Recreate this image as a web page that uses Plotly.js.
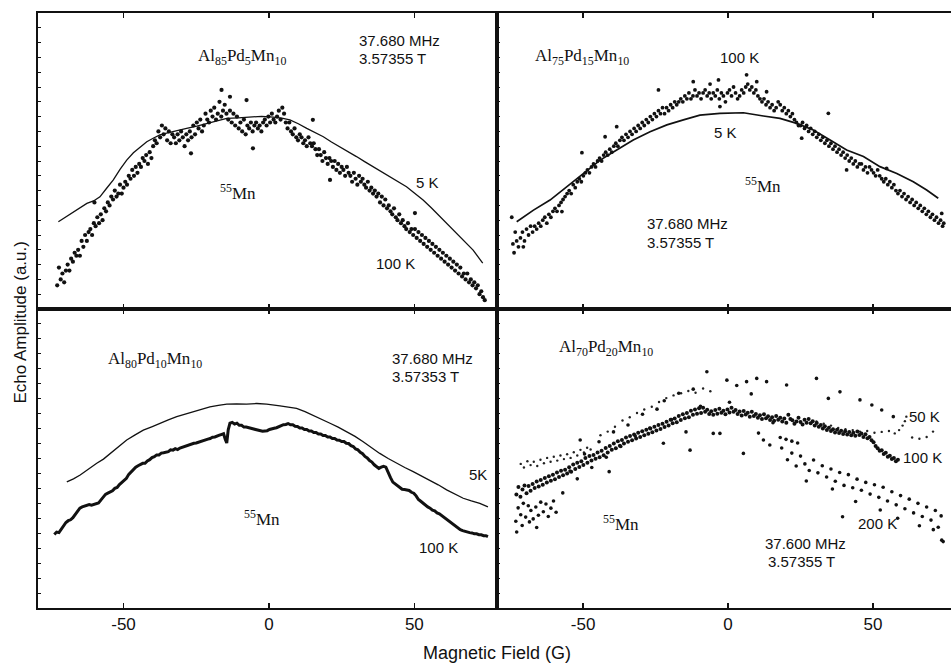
<!DOCTYPE html>
<html>
<head>
<meta charset="utf-8">
<script src="https://cdn.plot.ly/plotly-3.0.1.min.js"></script>
<style>
html,body{margin:0;padding:0;background:#fff;}
#chart{width:951px;height:663px;}
</style>
</head>
<body>
<div id="chart"></div>
<script>
// ---------- Panel A: Al85Pd5Mn10 (top-left) ----------
const a5K_x = [-72.4,-70.0,-67.8,-65.0,-62.6,-60.3,-58.1,-55.8,-53.5,-51.2,-48.9,-46.6,-44.3,-42.0,-39.8,-37.5,-35.2,-31.7,-28.3,-24.8,-21.4,-17.9,-14.5,-10.5,-6.5,-2.5,1.5,4.4,7.2,10.1,13.0,15.8,18.7,21.5,24.4,27.2,30.1,32.9,35.8,38.7,41.6,44.4,47.3,50.1,53.0,55.9,58.8,61.6,64.5,67.3,70.2,73.5];
const a5K_y = [29.5,31.0,32.3,34.2,35.7,36.5,37.9,40.8,43.6,47.2,50.3,52.8,54.8,56.5,57.7,58.8,59.4,60.3,61.0,61.8,62.7,63.6,64.4,64.6,64.8,65.1,64.8,64.5,63.9,62.6,61.0,59.7,58.2,56.4,54.8,53.2,51.5,49.8,48.1,46.4,44.7,43.0,41.3,39.1,36.8,34.1,31.2,28.4,25.6,22.7,19.9,15.5];
const a100K_x = [
-72.8,-72.2,-71.6,-71.0,-70.4,-69.8, -69.2,-68.6,-68.0,-67.4,-66.8,-66.2, -65.6,-65.0,-64.4,-63.8,-63.2,-62.6,
-62.0,-61.4,-60.8,-60.2,-59.6,-59.0, -58.4,-57.8,-57.2,-56.6,-56.0,-55.4, -54.8,-54.2,-53.6,-53.0,-52.4,-51.8,
-51.2,-50.6,-50.0,-49.4,-48.8,-48.2, -47.6,-47.0,-46.4,-45.8,-45.2,-44.6, -44.0,-43.4,-42.8,-42.2,-41.6,-41.0,
-40.4,-39.8,-39.2,-38.6,-38.0,-37.4, -36.8,-36.2,-35.6,-35.0,-34.4,-33.8, -33.2,-32.6,-32.0,-31.4,-30.8,-30.2,
-29.6,-29.0,-28.4,-27.8,-27.2,-26.6, -26.0,-25.4,-24.8,-24.2,-23.6,-23.0, -22.4,-21.8,-21.2,-20.6,-20.0,-19.4,
-18.8,-18.2,-17.6,-17.0,-16.4,-15.8, -15.2,-14.6,-14.0,-13.4,-12.8,-12.2, -11.6,-11.0,-10.4,-9.8,-9.2,-8.6,
-8.0,-7.4,-6.8,-6.2,-5.6,-5.0, -4.4,-3.8,-3.2,-2.6,-2.0,-1.4, -0.8,-0.2,0.4,1.0,1.6,2.2,
2.8,3.4,4.0,4.6,5.2,5.8, 6.4,7.0,7.6,8.2,8.8,9.4, 10.0,10.6,11.2,11.8,12.4,13.0,
13.6,14.2,14.8,15.4,16.0,16.6, 17.2,17.8,18.4,19.0,19.6,20.2, 20.8,21.4,22.0,22.6,23.2,23.8,
24.4,25.0,25.6,26.2,26.8,27.4, 28.0,28.6,29.2,29.8,30.4,31.0, 31.6,32.2,32.8,33.4,34.0,34.6,
35.2,35.8,36.4,37.0,37.6,38.2, 38.8,39.4,40.0,40.6,41.2,41.8, 42.4,43.0,43.6,44.2,44.8,45.4,
46.0,46.6,47.2,47.8,48.4,49.0, 49.6,50.2,50.8,51.4,52.0,52.6, 53.2,53.8,54.4,55.0,55.6,56.2,
56.8,57.4,58.0,58.6,59.2,59.8, 60.4,61.0,61.6,62.2,62.8,63.4, 64.0,64.6,65.2,65.8,66.4,67.0,
67.6,68.2,68.8,69.4,70.0,70.6, 71.2,71.8,72.4,73.0,73.6,74.2,
-16.3,-13.4,-7.7,-5.5,-26.8,15.1,21.0,50.2,-60.0];
const a100K_y = [
8,14,10,12,9,13, 15,13,17,16,19,18, 20,18,23,21,25,23,
26,27,25,29,28,31, 29,32,30,34,33,36, 35,38,37,40,38,39,
42,39,41,43,42,45, 44,47,45,48,46,49, 48,51,50,52,49,53,
51,55,57,56,60,58, 62,59,61,57,60,56, 59,58,56,59,57,60,
58,55,59,57,60,58, 62,59,63,61,64,60, 62,66,64,63,67,65,
68,64,66,70,65,67, 69,66,64,67,63,66, 62,65,61,63,60,64,
59,62,61,63,60,62, 63,61,62,60,63,64, 62,65,63,66,64,63,
65,67,64,68,66,63, 61,63,60,59,61,58, 57,59,58,56,57,55,
58,56,55,56,54,52, 54,52,50,53,51,49, 51,50,48,50,47,49,
46,48,47,45,48,46, 45,43,46,44,42,45, 43,44,42,41,43,40,
41,39,40,38,39,36, 38,35,37,34,35,33, 32,34,31,30,32,29,
30,28,27,29,26,27, 25,27,24,26,23,25, 22,24,21,23,20,22,
19,21,18,20,17,19, 16,18,15,17,14,16, 13,15,12,14,11,12,
10,12,9,10,8,9, 7,8,5,6,4,3,
74,71.7,70.6,54.3,52.6,63.9,43.6,32.4,36];

// ---------- Panel B: Al75Pd15Mn10 (top-right) ----------
const b5K_x = [-72.9,-67.1,-61.4,-55.6,-49.9,-44.1,-38.4,-32.7,-26.9,-21.1,-15.4,-9.7,-2.8,5.3,12.2,17.9,23.7,29.4,35.2,40.9,46.7,52.4,58.2,63.9,68.5,72.5];
const b5K_y = [29.5,33.4,36.8,41.3,45.8,50.3,53.7,57.1,59.9,62.2,63.9,65.5,66.1,66.3,65.2,64.4,62.7,60.5,57.1,53.7,51.5,48.1,45.8,43.0,40.2,37.4];
const b100K_x = [
-74.6,-74.2,-73.8,-73.4,-72.9,-72.3, -71.6,-70.9,-70.2,-69.5,-68.8,-68.1, -67.4,-66.7,-66.0,-65.3,-64.6,-63.9,
-63.2,-62.5,-61.8,-61.1,-60.4,-59.7, -59.0,-58.3,-57.6,-56.9,-56.2,-55.5, -54.8,-54.1,-53.4,-52.7,-52.0,-51.3,
-50.6,-49.9,-49.2,-48.5,-47.8,-47.1, -46.4,-45.7,-45.0,-44.3,-43.6,-42.9, -42.2,-41.5,-40.8,-40.1,-39.4,-38.7,
-38.0,-37.3,-36.6,-35.9,-35.2,-34.5, -33.8,-33.1,-32.4,-31.7,-31.0,-30.3, -29.6,-28.9,-28.2,-27.5,-26.8,-26.1,
-25.4,-24.7,-24.0,-23.3,-22.6,-21.9, -21.2,-20.5,-19.8,-19.1,-18.4,-17.7, -17.0,-16.3,-15.6,-14.9,-14.2,-13.5,
-12.8,-12.1,-11.4,-10.7,-10.0,-9.3, -8.6,-7.9,-7.2,-6.5,-5.8,-5.1, -4.4,-3.7,-3.0,-2.3,-1.6,-0.9,
-0.2,0.5,1.2,1.9,2.6,3.3, 4.0,4.7,5.4,6.1,6.8,7.5, 8.2,8.9,9.6,10.3,11.0,11.7,
12.4,13.1,13.8,14.5,15.2,15.9, 16.6,17.3,18.0,18.7,19.4,20.1, 20.8,21.5,22.2,22.9,23.6,24.3,
25.0,25.7,26.4,27.1,27.8,28.5, 29.2,29.9,30.6,31.3,32.0,32.7, 33.4,34.1,34.8,35.5,36.2,36.9,
37.6,38.3,39.0,39.7,40.4,41.1, 41.8,42.5,43.2,43.9,44.6,45.3, 46.0,46.7,47.4,48.1,48.8,49.5,
50.2,50.9,51.6,52.3,53.0,53.7, 54.4,55.1,55.8,56.5,57.2,57.9, 58.6,59.3,60.0,60.7,61.4,62.1,
62.8,63.5,64.2,64.9,65.6,66.3, 67.0,67.7,68.4,69.1,69.8,70.5, 71.2,71.9,72.6,73.3,74.0,74.4,
-24.0,-12.0,-6.2,-3.3,6.4,9.9,13.3,-38.4,-42.4,-50.4,-57.3,34.6,54.7,40.9,73.7,25.4,-2.8,-70.6];
const b100K_y = [
31,22,19,26,23,21, 24,26,23,27,25,28, 26,28,27,29,28,30,
31,29,32,31,33,34, 33,35,36,37,38,39, 40,39,42,41,43,44,
43,45,46,47,46,48, 49,48,50,51,50,52, 53,52,54,53,55,56,
55,57,58,57,59,58, 60,59,61,60,62,61, 63,62,64,63,65,64,
66,65,67,66,68,66, 68,67,69,68,70,69, 70,71,70,72,71,73,
71,72,74,72,73,71, 73,74,72,73,71,73, 72,74,71,73,72,70,
73,74,72,75,73,71, 72,74,73,75,76,74, 75,73,74,72,71,70,
71,69,70,68,69,67, 68,70,69,67,68,66, 67,65,66,64,63,62,
62,63,61,62,60,61, 59,60,58,59,57,58, 56,57,55,56,54,55,
53,54,52,53,51,52, 50,51,49,50,48,49, 49,47,48,46,48,47,
46,45,47,45,44,43, 44,42,43,41,42,40, 39,40,38,39,37,38,
36,37,35,36,34,35, 33,34,32,33,31,32, 30,31,29,30,28,29,
74.0,76.8,76.0,77.4,79.1,76.8,73.4,61.6,58.2,52.8,32.9,66.1,47.5,47.0,32.3,57.7,68.4,21.0];

// ---------- Panel C: Al80Pd10Mn10 (bottom-left) ----------
const c5K_x = [-69.5,-67.2,-64.9,-62.0,-59.2,-56.9,-54.6,-51.8,-48.9,-46.0,-43.2,-40.3,-37.5,-34.6,-31.7,-28.9,-26.0,-23.1,-20.3,-17.4,-14.5,-11.1,-7.7,-4.2,-0.8,3.8,6.6,9.5,12.4,15.2,18.1,21.0,23.8,26.7,29.6,32.4,35.3,38.1,41.0,43.9,46.7,49.6,52.5,55.3,58.2,61.1,63.9,66.8,69.6,72.5,75.3];
const c5K_y = [42.2,43.2,44.5,46.6,48.4,49.8,51.7,53.8,56.2,57.9,59.5,60.6,61.8,62.9,64.0,64.8,65.7,66.6,67.3,67.8,68.2,68.3,68.2,68.4,68.2,67.6,67.3,66.8,65.7,64.5,63.2,61.8,60.5,59.0,57.4,55.6,53.6,51.7,50.0,48.4,47.0,45.6,44.2,42.8,41.2,39.5,38.2,36.7,35.8,35.0,33.8];
const c100K_x = [
-73.8,-73.0,-72.2,-71.4,-70.6,-69.8, -69.0,-68.2,-67.4,-66.6,-65.8,-65.0, -64.2,-63.4,-62.6,-61.8,-61.0,-60.2,
-59.4,-58.6,-57.8,-57.0,-56.2,-55.4, -54.6,-53.8,-53.0,-52.2,-51.4,-50.6, -49.8,-49.0,-48.2,-47.4,-46.6,-45.8,
-45.0,-44.2,-43.4,-42.6,-41.8,-41.0, -40.2,-39.4,-38.6,-37.8,-37.0,-36.2, -35.4,-34.6,-33.8,-33.0,-32.2,-31.4,
-30.6,-29.8,-29.0,-28.2,-27.4,-26.6, -25.8,-25.0,-24.2,-23.4,-22.6,-21.8, -21.0,-20.2,-19.4,-18.6,-17.8,-17.0,
-16.2,-15.6,-15.0,-14.5,-14.0,-13.4, -12.6,-11.8,-11.0,-10.2,-9.4,-8.6, -7.8,-7.0,-6.2,-5.4,-4.6,-3.8,
-3.0,-2.2,-1.4,-0.6,0.2,1.0, 1.8,2.6,3.4,4.2,5.0,5.8, 6.6,7.4,8.2,9.0,9.8,10.6,
11.4,12.2,13.0,13.8,14.6,15.4, 16.2,17.0,17.8,18.6,19.4,20.2, 21.0,21.8,22.6,23.4,24.2,25.0,
25.8,26.6,27.4,28.2,29.0,29.8, 30.6,31.4,32.2,33.0,33.8,34.6, 35.4,36.2,37.0,37.8,38.6,39.4,
40.2,41.0,41.8,42.6,43.4,44.2, 45.0,45.8,46.6,47.4,48.2,49.0, 49.8,50.6,51.4,52.2,53.0,53.8,
54.6,55.4,56.2,57.0,57.8,58.6, 59.4,60.2,61.0,61.8,62.6,63.4, 64.2,65.0,65.8,66.6,67.4,68.2,
69.0,69.8,70.6,71.4,72.2,73.0, 73.8,74.6,75.3];
const c100K_y = [
24.6,25.4,25.2,26.3,27.3,28.6, 29.2,29.5,30.2,31.3,32.5,33.4, 33.8,34.1,34.3,34.6,34.4,34.7,
35.0,35.1,36.1,37.0,38.0,38.4, 38.8,39.2,40.0,40.3,41.3,41.9, 42.8,43.4,44.7,45.5,46.5,47.1,
47.6,47.9,48.4,48.4,49.2,49.6, 50.3,50.6,51.2,51.2,51.8,51.9, 52.2,52.3,52.9,52.8,53.3,53.0,
53.5,53.8,54.0,54.2,54.6,54.8, 55.1,55.2,55.5,55.7,56.0,56.2, 56.5,56.7,57.1,57.2,57.6,57.8,
58.1,58.3,56.4,55.2,59.6,61.8, 62.1,61.5,61.8,61.1,61.1,60.5, 60.5,60.3,60.1,59.8,59.6,59.3,
59.2,59.1,59.2,59.3,59.7,59.8, 60.1,60.3,60.7,60.9,61.3,61.4, 61.7,61.3,61.3,60.8,60.7,60.2,
60.2,59.7,59.7,59.2,59.2,58.7, 58.7,58.2,58.2,57.7,57.7,57.2, 57.2,56.7,56.7,56.2,56.1,55.7,
55.7,55.1,55.0,54.3,54.0,53.2, 52.9,52.1,51.6,50.7,50.2,49.3, 48.8,47.9,47.4,46.7,47.1,47.4,
47.1,45.2,43.6,42.1,41.5,40.7, 40.4,39.7,39.6,39.5,39.3,38.7, 38.4,37.5,36.3,35.7,35.0,34.5,
33.8,33.4,32.7,32.5,31.8,31.5, 30.9,30.6,29.8,29.4,28.6,28.2, 27.4,27.0,26.2,25.9,25.6,25.5,
25.2,25.1,24.8,24.8,24.5,24.5, 24.2,24.2,23.9];

// ---------- Panel D: Al70Pd20Mn10 (bottom-right) ----------
const d50K_x = [-71.5,-70.4,-69.2,-68.1,-67.0,-65.8,-64.7,-63.5,-62.4,-61.2,-60.1,-58.9,-57.8,-56.6,-55.5,-54.3,-53.2,-52.0,-50.9,-49.7,-48.6,-47.4,
-44.0,-41.5,-39.0,-36.4,-33.9,-31.4,-28.9,-26.3,-23.8,-21.3,-18.8,-16.2,-13.7,-11.2,-8.6,-6.1,
30.5,33.0,35.5,38.0,40.5,43.0,45.5,48.0,50.5,53.0,55.5,57.5,59.0,60.2,61.0,61.5,63.5,66.0,68.5,70.7];
const d50K_y = [48.2,47.0,49.1,47.8,48.9,47.5,49.6,48.4,50.2,48.9,50.6,49.3,51.0,49.8,51.4,50.2,52.1,51.0,52.9,52.0,53.6,53.0,
57.8,59.0,60.6,62.7,63.8,65.2,66.4,67.3,68.9,70.2,71.1,71.8,72.6,72.0,73.4,72.5,
62.4,61.6,61.0,60.2,59.8,59.5,59.0,59.2,58.6,58.9,59.2,58.4,59.5,61.0,62.5,64.0,57.0,56.6,57.2,59.0];
const d100K_x = [
-73.0,-72.3,-71.6,-70.9,-70.2,-69.5, -68.8,-68.1,-67.4,-66.7,-66.0,-65.3, -64.6,-63.9,-63.2,-62.5,-61.8,-61.1,
-60.4,-59.7,-59.0,-58.3,-57.6,-56.9, -56.2,-55.5,-54.8,-54.1,-53.4,-52.7, -52.0,-51.3,-50.6,-49.9,-49.2,-48.5,
-47.8,-47.1,-46.4,-45.7,-45.0,-44.3, -43.6,-42.9,-42.2,-41.5,-40.8,-40.1, -39.4,-38.7,-38.0,-37.3,-36.6,-35.9,
-35.2,-34.5,-33.8,-33.1,-32.4,-31.7, -31.0,-30.3,-29.6,-28.9,-28.2,-27.5, -26.8,-26.1,-25.4,-24.7,-24.0,-23.3,
-22.6,-21.9,-21.2,-20.5,-19.8,-19.1, -18.4,-17.7,-17.0,-16.3,-15.6,-14.9, -14.2,-13.5,-12.8,-12.1,-11.4,-10.7,
-10.0,-9.3,-8.6,-7.9,-7.2,-6.5, -5.8,-5.1,-4.4,-3.7,-3.0,-2.3, -1.6,-0.9,-0.2,0.5,1.2,1.9,
2.6,3.3,4.0,4.7,5.4,6.1, 6.8,7.5,8.2,8.9,9.6,10.3, 11.0,11.7,12.4,13.1,13.8,14.5,
15.2,15.9,16.6,17.3,18.0,18.7, 19.4,20.1,20.8,21.5,22.2,22.9, 23.6,24.3,25.0,25.7,26.4,27.1,
27.8,28.5,29.2,29.9,30.6,31.3, 32.0,32.7,33.4,34.1,34.8,35.5, 36.2,36.9,37.6,38.3,39.0,39.7,
40.4,41.1,41.8,42.5,43.2,43.9, 44.6,45.3,46.0,46.7,47.4,48.1, 48.8,49.5,50.2,50.9,51.6,52.3,
53.0,53.7,54.4,55.1,55.8,56.5, 57.2,57.9,58.6];
const d100K_y = [
38.0,40.5,37.2,39.6,41.0,38.4, 40.8,39.2,41.5,40.1,42.3,40.6, 42.8,41.2,43.5,42.0,44.1,42.6,
44.6,43.1,45.3,43.8,45.9,44.4, 46.2,45.0,47.1,45.6,48.0,46.5, 48.6,47.2,49.1,47.8,50.2,48.6,
50.8,49.3,51.2,49.9,52.0,50.4, 52.6,51.1,53.5,52.0,54.2,52.9, 55.0,53.4,55.8,54.3,56.2,55.0,
57.0,55.6,57.5,56.1,58.0,56.7, 58.6,57.2,59.1,57.8,59.6,58.3, 60.0,58.8,60.6,59.4,61.2,59.9,
61.6,60.5,62.3,61.0,63.0,61.8, 63.4,62.1,64.2,62.9,64.8,63.5, 65.2,63.8,66.0,64.6,66.4,65.0,
66.8,65.2,67.0,65.6,66.3,64.9, 65.8,64.6,66.2,65.0,66.6,65.3, 66.0,64.8,66.4,65.4,67.0,65.6,
66.2,64.9,65.7,64.4,65.9,64.7, 65.3,64.0,65.6,64.2,64.9,63.6, 64.5,63.2,64.8,63.5,64.1,62.9,
63.8,62.6,64.2,63.0,63.6,62.4, 63.4,62.0,64.6,63.2,62.8,61.6, 62.4,63.6,62.2,61.4,63.0,62.0,
63.2,61.8,62.5,61.0,61.9,60.6, 61.2,60.0,60.8,59.5,60.3,59.2, 59.8,58.7,59.6,58.5,59.3,58.2,
59.1,58.0,58.9,57.8,58.6,57.6, 59.0,57.9,58.4,57.2,58.1,56.8, 57.2,56.1,55.4,54.2,53.4,52.6,
52.8,51.5,51.9,50.6,50.9,49.8, 50.2,49.1,49.6];
const d200K_x = [-73.2,-72.4,-71.5,-70.6,-69.8,-68.9,-68.0,-67.2,-66.3,-65.4,-64.6,-63.7,-62.8,-62.0,-61.1,-60.2,-59.3,-72.9,-71.0,-68.5,-66.0,
-57.0,-54.5,-52.0,-51.0,-49.5,-47.0,-44.5,-42.0,-41.0,-39.5,-37.0,-34.5,-32.0,-29.5,-27.0,-24.5,-22.3,-22.0,-19.5,-17.0,-14.5,-13.1,-12.0,-9.5,-7.3,-5.1,-2.8,-0.4,0.5,3.0,5.3,6.4,8.0,9.9,10.5,12.2,13.3,14.4,15.5,
18.0,20.0,22.0,24.0,20.2,30.5,34.6,38.6,45.5,49.6,53.0,57.0,
18.5,20.5,22.0,23.5,25.0,26.5,28.0,29.5,31.0,32.5,34.0,35.5,37.0,38.5,40.0,41.5,43.0,44.5,46.0,47.5,49.0,50.5,52.0,53.5,55.0,56.5,58.0,59.5,61.0,62.5,64.0,65.5,67.0,68.5,70.0,71.5,72.5,73.5,74.2,70.8,44.0,36.0,27.0,58.5,66.0,52.5,39.5,73.7];
const d200K_y = [29.0,33.5,31.2,35.0,30.4,34.2,32.6,29.8,33.8,31.0,35.4,32.2,34.8,30.6,33.4,35.8,32.0,25.4,27.6,28.8,26.9,
38.5,45.8,43.2,56.2,51.5,47.0,55.6,50.4,45.6,58.9,54.0,61.2,57.5,64.8,60.2,66.5,55.1,69.3,63.0,71.8,58.9,52.8,73.2,67.5,79.0,58.4,58.4,76.2,68.8,74.4,51.7,75.7,71.6,76.8,58.5,56.2,75.7,54.5,62.0,
57.0,56.4,55.8,55.2,74.6,76.8,70.1,72.3,69.6,67.9,66.2,64.0,
53.5,49.6,51.8,47.5,50.8,48.2,46.0,49.5,45.2,47.6,43.8,46.5,42.4,45.3,41.0,44.6,40.2,43.1,39.4,42.0,38.1,41.2,37.0,40.4,35.8,38.9,34.5,37.6,33.2,36.4,31.8,35.0,30.6,33.8,29.4,32.6,27.0,30.8,22.2,26.2,35.6,39.8,42.5,30.0,27.5,32.8,30.5,22.7];

// ---------- Text ----------
const tickVals = [-50, 0, 50];
const tickText = ['-50', '0', '50'];
const xTitle = 'Magnetic Field (G)';
const yTitle = 'Echo Amplitude (a.u.)';

const ink = '#111';
function dots(x, y, xa, ya, size, color) {
  return {x: x, y: y, xaxis: xa, yaxis: ya, type: 'scatter', mode: 'markers',
    marker: {size: size, color: color || ink, line: {width: 0}}, hoverinfo: 'skip', showlegend: false};
}
function line(x, y, xa, ya, w) {
  return {x: x, y: y, xaxis: xa, yaxis: ya, type: 'scatter', mode: 'lines',
    line: {width: w, color: ink}, hoverinfo: 'skip', showlegend: false};
}

const data = [
  line(a5K_x, a5K_y, 'x3', 'y3', 1.3),
  dots(a100K_x, a100K_y, 'x3', 'y3', 4.2),
  line(b5K_x, b5K_y, 'x4', 'y4', 1.7),
  dots(b100K_x, b100K_y, 'x4', 'y4', 3.8),
  line(c5K_x, c5K_y, 'x', 'y', 1.3),
  line(c100K_x, c100K_y, 'x', 'y', 3.0),
  dots(d50K_x, d50K_y, 'x2', 'y2', 2.4, '#222'),
  dots(d100K_x, d100K_y, 'x2', 'y2', 4.0),
  dots(d200K_x, d200K_y, 'x2', 'y2', 3.6)
];

const xSplit = 0.5027, ySplit = 0.5025;
function xax(dom, range, anchor, labels) {
  return {domain: dom, range: range, anchor: anchor, tickvals: tickVals, ticktext: tickText,
    showticklabels: labels, ticks: 'inside', ticklen: 5, tickwidth: 1.2, tickcolor: ink,
    showline: true, linecolor: ink, linewidth: 1.6, mirror: 'ticks', showgrid: false, zeroline: false,
    tickfont: {family: 'Liberation Sans, Arial, sans-serif', size: 17, color: ink}, fixedrange: true};
}
function yax(dom, anchor, mirror) {
  return {domain: dom, range: [0, 100], anchor: anchor, dtick: 5, showticklabels: false,
    ticks: 'inside', ticklen: 3, tickwidth: 1, tickcolor: ink,
    showline: true, linecolor: ink, linewidth: 1.6, mirror: mirror, showgrid: false, zeroline: false, fixedrange: true};
}

const sans = {family: 'Liberation Sans, Arial, sans-serif', size: 15, color: ink};
const serif = {family: 'Liberation Serif, Times New Roman, serif', size: 17, color: ink};
function note(text, xref, yref, x, y, font, xanchor) {
  return {text: text, xref: xref, yref: yref, x: x, y: y, showarrow: false, font: font,
    xanchor: xanchor || 'center', yanchor: 'middle'};
}

const annotations = [
  // top-left
  note('Al<sub>85</sub>Pd<sub>5</sub>Mn<sub>10</sub>', 'x3', 'y3', -9.3, 85.1, serif),
  note('37.680 MHz', 'x3', 'y3', 30.2, 90.8, sans, 'left'),
  note('3.57355 T', 'x3', 'y3', 30.2, 84.6, sans, 'left'),
  note('5 K', 'x3', 'y3', 54.6, 42.6, sans),
  note('100 K', 'x3', 'y3', 43.6, 15.5, sans),
  note('<sup>55</sup>Mn', 'x3', 'y3', -10.7, 39.5, serif),
  // top-right
  note('Al<sub>75</sub>Pd<sub>15</sub>Mn<sub>10</sub>', 'x4', 'y4', -50.3, 85.1, serif),
  note('100 K', 'x4', 'y4', 4.1, 85.1, sans),
  note('5 K', 'x4', 'y4', -1.0, 59.8, sans),
  note('<sup>55</sup>Mn', 'x4', 'y4', 12.1, 41.9, serif),
  note('37.680 MHz', 'x4', 'y4', -28.6, 28.8, sans, 'left'),
  note('3.57355 T', 'x4', 'y4', -28.6, 22.6, sans, 'left'),
  // bottom-left
  note('Al<sub>80</sub>Pd<sub>10</sub>Mn<sub>10</sub>', 'x', 'y', -39.2, 82.9, serif),
  note('37.680 MHz', 'x', 'y', 41.6, 83.6, sans, 'left'),
  note('3.57353 T', 'x', 'y', 41.6, 77.3, sans, 'left'),
  note('5K', 'x', 'y', 68.0, 44.5, sans, 'left'),
  note('100 K', 'x', 'y', 58.4, 20.1, sans),
  note('<sup>55</sup>Mn', 'x', 'y', -2.4, 30.1, serif),
  // bottom-right
  note('Al<sub>70</sub>Pd<sub>20</sub>Mn<sub>10</sub>', 'x2', 'y2', -42.1, 87.0, serif),
  note('50 K', 'x2', 'y2', 67.9, 63.9, sans),
  note('100 K', 'x2', 'y2', 66.9, 50.2, sans),
  note('200 K', 'x2', 'y2', 51.7, 28.4, sans),
  note('<sup>55</sup>Mn', 'x2', 'y2', -36.9, 28.4, serif),
  note('37.600 MHz', 'x2', 'y2', 12.1, 21.6, sans, 'left'),
  note('3.57355 T', 'x2', 'y2', 13.1, 15.4, sans, 'left'),
  // axis titles
  {text: xTitle, xref: 'paper', yref: 'paper', x: 0.503, y: -0.076, showarrow: false,
    font: {family: 'Liberation Sans, Arial, sans-serif', size: 18, color: ink}, xanchor: 'center', yanchor: 'middle'},
  {text: yTitle, xref: 'paper', yref: 'paper', x: -0.0195, y: 0.48, showarrow: false, textangle: -90,
    font: {family: 'Liberation Sans, Arial, sans-serif', size: 17, color: ink}, xanchor: 'center', yanchor: 'middle'}
];

const layout = {
  width: 951, height: 663,
  margin: {l: 38, r: 0, t: 13, b: 55, pad: 0},
  paper_bgcolor: '#fff', plot_bgcolor: '#fff',
  showlegend: false,
  xaxis: xax([0, xSplit], [-79.4, 78.4], 'y', true),
  yaxis: yax([0, ySplit], 'x', true),
  xaxis2: xax([xSplit, 1], [-79.7, 76.9], 'y2', true),
  yaxis2: yax([0, ySplit], 'x2', false),
  xaxis3: xax([0, xSplit], [-79.4, 78.4], 'y3', false),
  yaxis3: yax([ySplit, 1], 'x3', true),
  xaxis4: xax([xSplit, 1], [-79.7, 76.9], 'y4', false),
  yaxis4: yax([ySplit, 1], 'x4', false),
  annotations: annotations
};

Plotly.newPlot('chart', data, layout, {displayModeBar: false, staticPlot: true});
</script>
</body>
</html>
